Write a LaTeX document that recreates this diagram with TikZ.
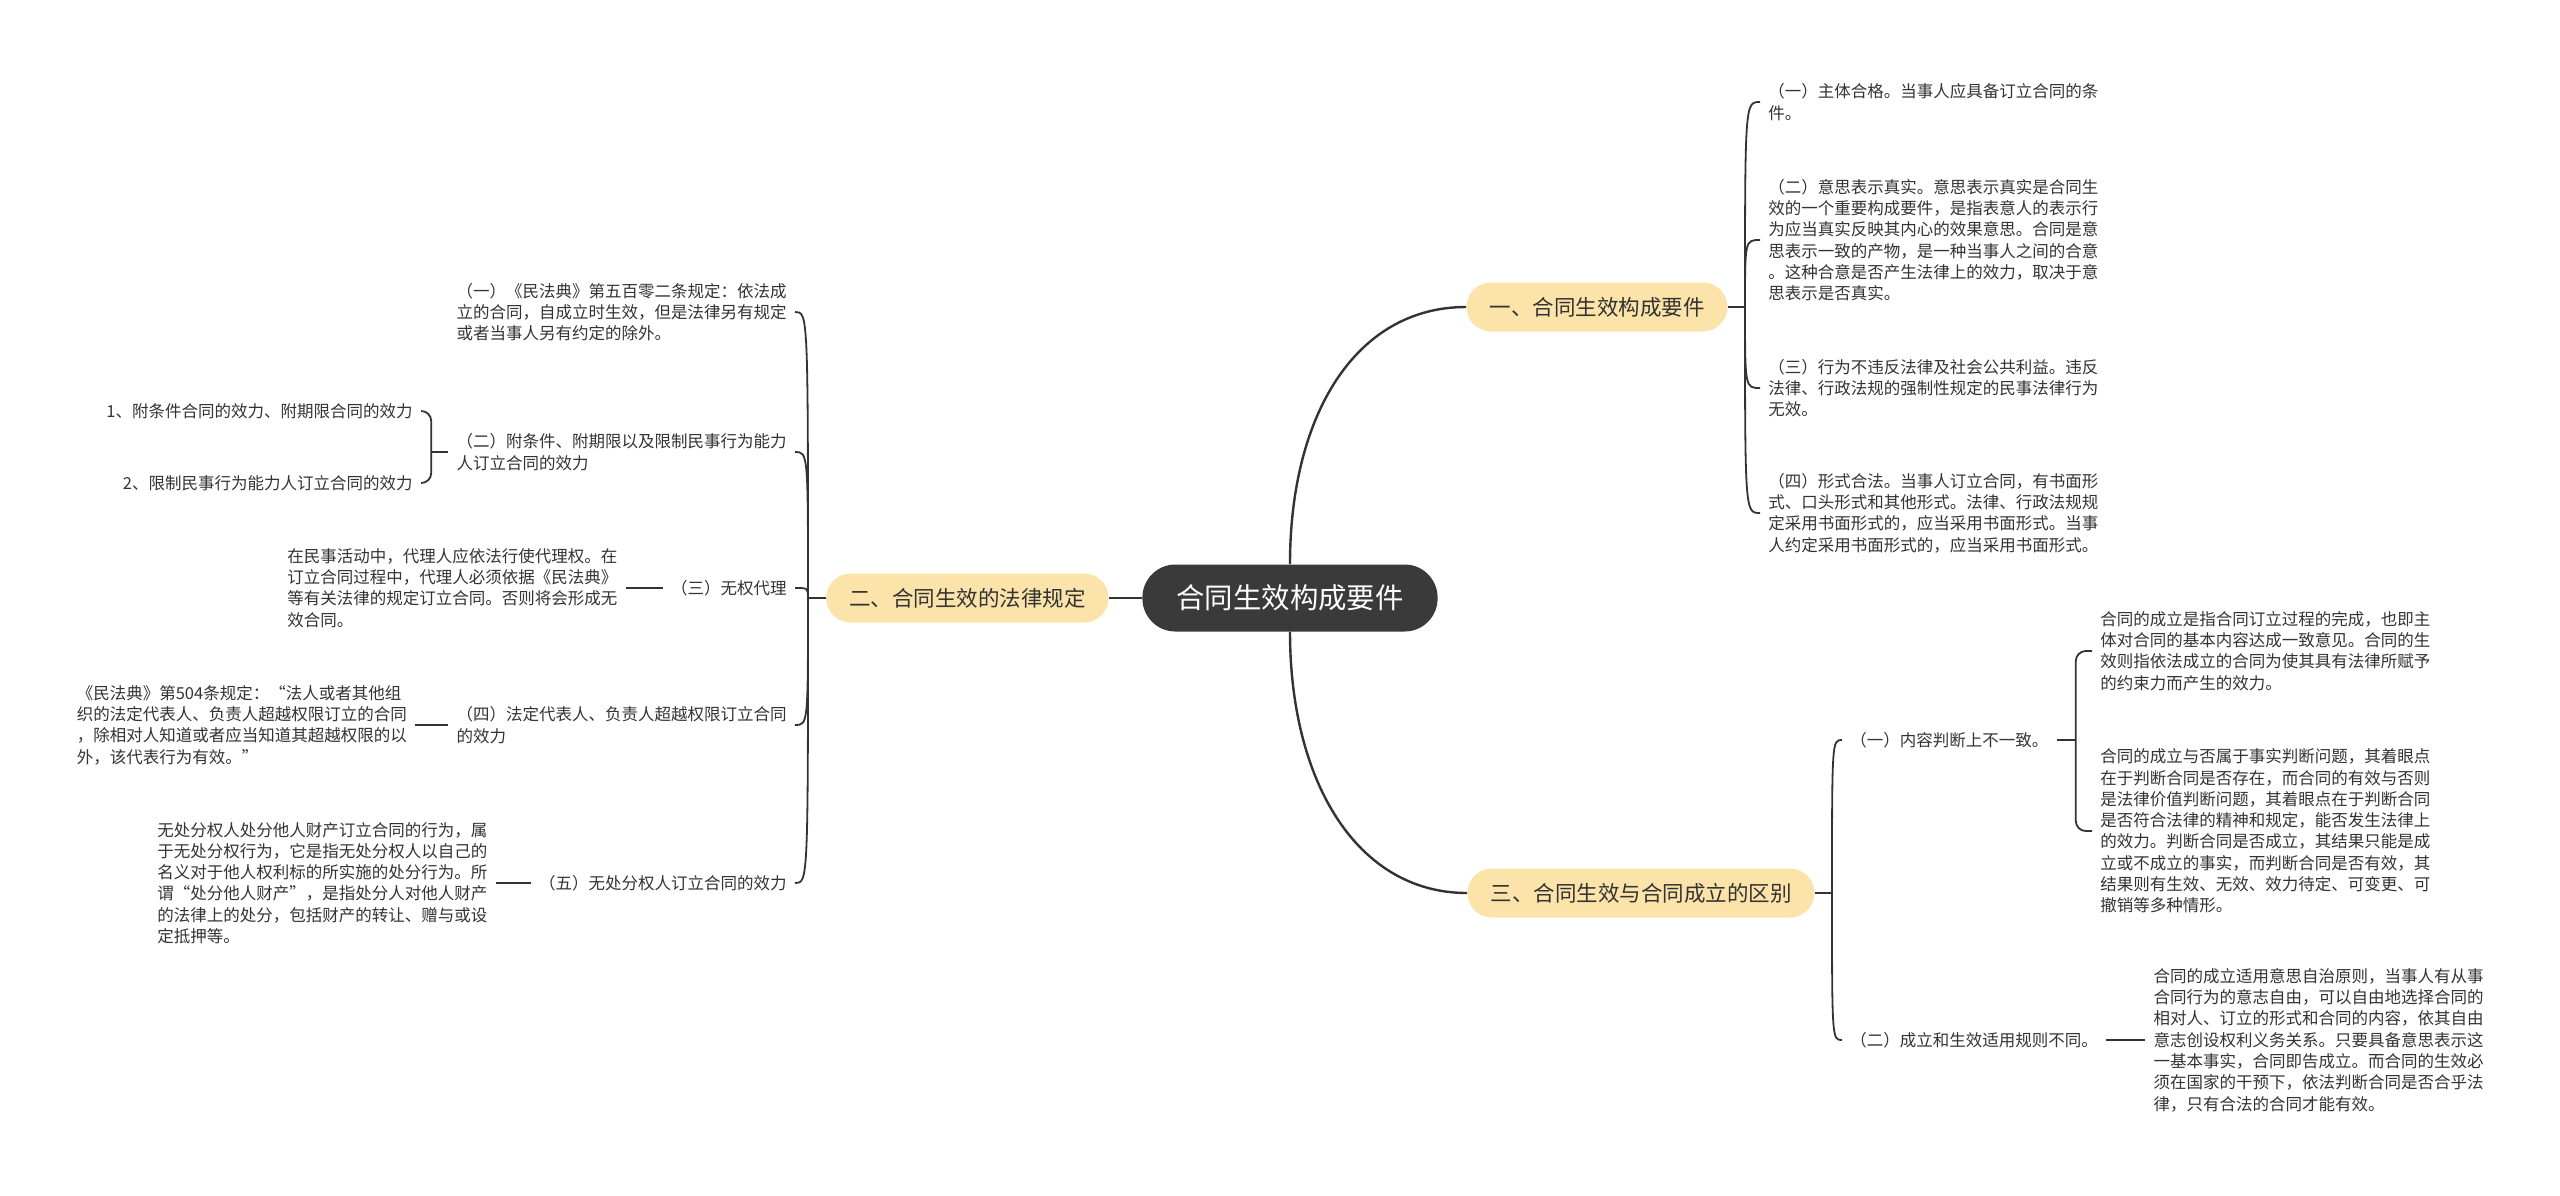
\documentclass[tikz,border=0pt]{standalone}
\usepackage{fontspec}
\setmainfont{Noto Sans CJK SC}
\usetikzlibrary{positioning}
\definecolor{huang}{HTML}{FBE3A9}
\definecolor{shenhui}{HTML}{3A3A3A}
\definecolor{zi}{HTML}{333333}
\definecolor{xianse}{HTML}{333333}

\begin{document}
\begin{tikzpicture}[x=0.5pt,y=-0.5pt,
      zhongxin/.style={rounded corners=16.5pt,fill=shenhui,text=white,inner xsep=17pt,
                       minimum height=33.5pt,font=\fontsize{14.2}{17}\selectfont},
      fenzhi/.style={rounded corners=12.25pt,fill=huang,text=zi,inner xsep=11.5pt,
                     minimum height=24.5pt,font=\fontsize{10.75}{13}\selectfont},
      neirong/.style={align=left,inner xsep=4pt,inner ysep=0pt,text=zi,
                      font=\fontsize{8.25}{10.65}\selectfont},
      xian/.style={draw=xianse,line width=1.2pt},
      zhi/.style={draw=xianse,line width=0.9pt,
                  to path={.. controls (\tikztostart |- \tikztotarget) .. (\tikztotarget)}},
      kuo/.style={draw=xianse,line width=0.9pt,rounded corners=5pt},
      node distance=18pt]
    \fill[white] (0,0) rectangle (2560,1195);
    % centre and main branches
    \node[zhongxin] (zx) at (1290,598) {合同生效构成要件};
    \node[fenzhi] (b1) at (1597,307) {一、合同生效构成要件};
    \node[fenzhi,left=16.5pt of zx] (b2) {二、合同生效的法律规定};
    \node[fenzhi] (b3) at (1641,893) {三、合同生效与合同成立的区别};
    \coordinate (j1) at (1745,307);
    \coordinate (j2) at (808,598);
    \coordinate (j3) at (1832,893);
    % branch 1
    \node[neirong,anchor=west] (c11) at (1760,102) {（一）主体合格。当事人应具备订立合同的条\\件。};
    \node[neirong,anchor=west] (c12) at (1760,240) {（二）意思表示真实。意思表示真实是合同生\\效的一个重要构成要件，是指表意人的表示行\\为应当真实反映其内心的效果意思。合同是意\\思表示一致的产物，是一种当事人之间的合意\\。这种合意是否产生法律上的效力，取决于意\\思表示是否真实。};
    \node[neirong,anchor=west] (c13) at (1760,388) {（三）行为不违反法律及社会公共利益。违反\\法律、行政法规的强制性规定的民事法律行为\\无效。};
    \node[neirong,anchor=west] (c14) at (1760,513) {（四）形式合法。当事人订立合同，有书面形\\式、口头形式和其他形式。法律、行政法规规\\定采用书面形式的，应当采用书面形式。当事\\人约定采用书面形式的，应当采用书面形式。};
    % branch 2
    \node[neirong,anchor=east] (c21) at (795,312) {（一）《民法典》第五百零二条规定：依法成\\立的合同，自成立时生效，但是法律另有规定\\或者当事人另有约定的除外。};
    \node[neirong,anchor=east] (c22) at (795,452) {（二）附条件、附期限以及限制民事行为能力\\人订立合同的效力};
    \node[neirong,anchor=east] (c23) at (795,588) {（三）无权代理};
    \node[neirong,anchor=east] (c24) at (795,725) {（四）法定代表人、负责人超越权限订立合同\\的效力};
    \node[neirong,anchor=east] (c25) at (795,883) {（五）无处分权人订立合同的效力};
    \node[neirong,anchor=east] (c221) at (421,411) {1、附条件合同的效力、附期限合同的效力};
    \node[neirong,anchor=east] (c222) at (421,483) {2、限制民事行为能力人订立合同的效力};
    \coordinate (j22) at ([xshift=-8.5pt]c22.west);
    \node[neirong,left=18.5pt of c23] (c231) {在民事活动中，代理人应依法行使代理权。在\\订立合同过程中，代理人必须依据《民法典》\\等有关法律的规定订立合同。否则将会形成无\\效合同。};
    \node[neirong,left=16.5pt of c24] (c241) {《民法典》第504条规定：“法人或者其他组\\织的法定代表人、负责人超越权限订立的合同\\，除相对人知道或者应当知道其超越权限的以\\外，该代表行为有效。”};
    \node[neirong,left=17.5pt of c25] (c251) {无处分权人处分他人财产订立合同的行为，属\\于无处分权行为，它是指无处分权人以自己的\\名义对于他人权利标的所实施的处分行为。所\\谓“处分他人财产”，是指处分人对他人财产\\的法律上的处分，包括财产的转让、赠与或设\\定抵押等。};
    % branch 3
    \node[neirong,anchor=west] (c31) at (1842,740) {（一）内容判断上不一致。};
    \node[neirong,anchor=west] (c32) at (1842,1040) {（二）成立和生效适用规则不同。};
    \coordinate (j31) at ([xshift=9.5pt]c31.east);
    \node[neirong,anchor=west] (c311) at (2092,651) {合同的成立是指合同订立过程的完成，也即主\\体对合同的基本内容达成一致意见。合同的生\\效则指依法成立的合同为使其具有法律所赋予\\的约束力而产生的效力。};
    \node[neirong,anchor=west] (c312) at (2092,831) {合同的成立与否属于事实判断问题，其着眼点\\在于判断合同是否存在，而合同的有效与否则\\是法律价值判断问题，其着眼点在于判断合同\\是否符合法律的精神和规定，能否发生法律上\\的效力。判断合同是否成立，其结果只能是成\\立或不成立的事实，而判断合同是否有效，其\\结果则有生效、无效、效力待定、可变更、可\\撤销等多种情形。};
    \node[neirong,right=19.5pt of c32] (c321) {合同的成立适用意思自治原则，当事人有从事\\合同行为的意志自由，可以自由地选择合同的\\相对人、订立的形式和合同的内容，依其自由\\意志创设权利义务关系。只要具备意思表示这\\一基本事实，合同即告成立。而合同的生效必\\须在国家的干预下，依法判断合同是否合乎法\\律，只有合法的合同才能有效。};
    % connectors
    \draw[xian] (zx.west) -- (b2.east);
    \draw[xian] (zx.north) .. controls +(0,-150) and +(-110,0) .. (b1.west);
    \draw[xian] (zx.south) .. controls +(0,150) and +(-110,0) .. (b3.west);
    \draw[xian] (b1.east) -- (j1);
    \draw[xian] (b2.west) -- (j2);
    \draw[xian] (b3.east) -- (j3);
    \foreach \n in {c11,c12,c13,c14}
      \draw[zhi] (j1) to (\n.west);
    \foreach \n in {c21,c22,c23,c24,c25}
      \draw[zhi] (j2) to (\n.east);
    \draw[zhi] (j3) to (c31.west);
    \draw[zhi] (j3) to (c32.west);
    \draw[xian] (c22.west) -- (j22);
    \draw[kuo] (j22) |- (c221.east);
    \draw[kuo] (j22) |- (c222.east);
    \draw[xian] (c31.east) -- (j31);
    \draw[kuo] (j31) |- (c311.west);
    \draw[kuo] (j31) |- (c312.west);
    \draw[xian] (c23.west) -- (c231.east);
    \draw[xian] (c24.west) -- (c241.east);
    \draw[xian] (c25.west) -- (c251.east);
    \draw[xian] (c32.east) -- (c321.west);
\end{tikzpicture}
\end{document}
